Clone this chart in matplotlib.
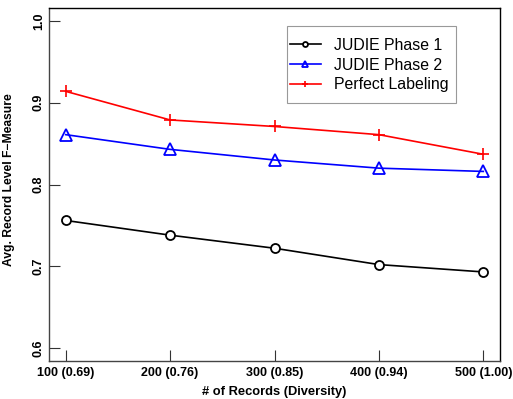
import matplotlib
matplotlib.use("Agg")
import matplotlib.pyplot as plt
from matplotlib.patches import Rectangle

plt.rcParams['font.family'] = ['Liberation Sans', 'DejaVu Sans']

# valeurs
records = [100, 200, 300, 400, 500]
tick_labels = ['100 (0.69)', '200 (0.76)', '300 (0.85)', '400 (0.94)', '500 (1.00)']
phase1 = [0.756, 0.738, 0.722, 0.702, 0.693]
phase2 = [0.861, 0.843, 0.830, 0.820, 0.816]
perfect = [0.914, 0.879, 0.871, 0.861, 0.837]

fig = plt.figure(figsize=(5.13, 3.99), dpi=100)
ax = fig.add_axes([49 / 513, 1 - 361 / 399, 451 / 513, 353 / 399])

ax.plot(records, phase1, color='black', lw=1.2, marker='o', ms=6.5,
        mfc='white', mec='black', mew=1.3, label='JUDIE Phase 1')
ax.plot(records, phase2, color='blue', lw=1.2, marker='^', ms=8,
        mfc='none', mec='blue', mew=1.3, label='JUDIE Phase 2')
ax.plot(records, perfect, color='red', lw=1.2, marker='+', ms=9,
        mew=1.2, label='Perfect Labeling')

ax.set_xlim(84, 516)
ax.set_ylim(0.584, 1.016)
ax.set_xticks(records)
ax.set_xticklabels(tick_labels, fontsize=9, fontweight='bold')
ax.set_yticks([0.6, 0.7, 0.8, 0.9, 1.0])
ax.set_yticklabels(['0.6', '0.7', '0.8', '0.9', '1.0'], fontsize=9,
                   fontweight='bold', rotation=90, va='center')
ax.tick_params(direction='in', length=8, width=0.8, color='#333333')
ax.tick_params(axis='x', pad=4)
ax.tick_params(axis='y', pad=3)

for s in ax.spines.values():
    s.set_linewidth(1.0)
ax.spines['left'].set_color('#444444')
ax.spines['bottom'].set_color('#444444')

ax.set_xlabel('# of Records (Diversity)', fontsize=9.3, fontweight='bold', labelpad=5)
ax.set_ylabel('Avg. Record Level F\u2212Measure', fontsize=8.7, fontweight='bold', labelpad=4)
ax.yaxis.set_label_coords(-0.075, 0.515)

# légende sans cadre, avec un cadre dessiné à part
leg = ax.legend(loc='upper left', bbox_to_anchor=(290 / 513, 1 - 38 / 399),
                bbox_transform=fig.transFigure, fontsize=11.4, frameon=False,
                markerscale=0.55, handlelength=1.95, borderpad=0, borderaxespad=0,
                labelspacing=0.3, handletextpad=0.85)
fig.patches.append(Rectangle((287 / 513, 1 - 103 / 399), 169 / 513, 77 / 399,
                             transform=fig.transFigure, fill=False,
                             edgecolor='#999999', lw=0.8))

fig.savefig('out.png', dpi=100)
